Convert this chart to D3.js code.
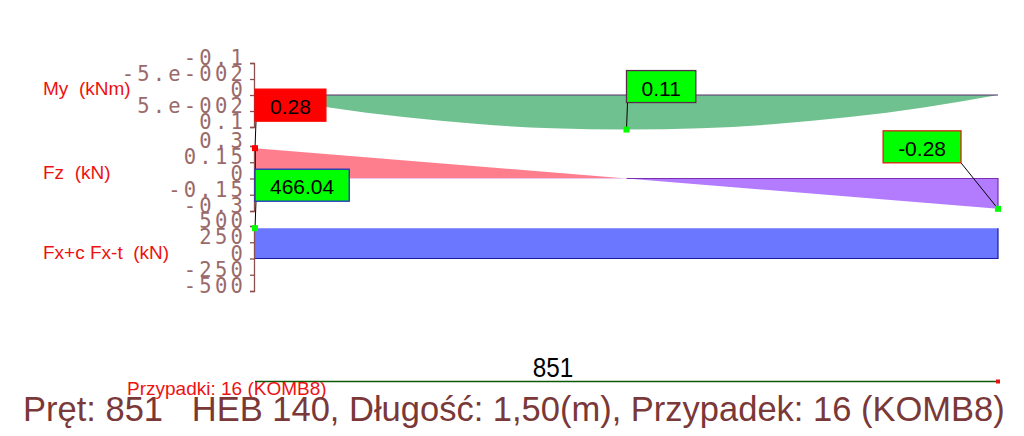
<!DOCTYPE html>
<html><head><meta charset="utf-8">
<script src="https://cdn.jsdelivr.net/npm/d3@7"></script>
<style>
html,body{margin:0;padding:0;background:#fff;}
svg{display:block;}
text{white-space:pre;}
</style></head>
<body>
<svg id="chart" width="1024" height="436"></svg>
<script>
// ---- data ----
const beamLength = 1.5;
const stations = [0, 0.15, 0.3, 0.45, 0.6, 0.75, 0.9, 1.05, 1.2, 1.35, 1.5];
const myValues = [0, 0.039, 0.069, 0.091, 0.104, 0.108, 0.104, 0.091, 0.069, 0.039, 0];
const fzStations = [0, 1.5];
const fzValues = [0.28, -0.28];
const fxStations = [0, 1.5];
const fxValues = [466.04, 466.04];

const myTicks = [-0.1, -0.05, 0, 0.05, 0.1];
const myTickLabels = ["-0.1", "-5.e-002", "0", "5.e-002", "0.1"];
const fzTicks = [0.3, 0.15, 0, -0.15, -0.3];
const fzTickLabels = ["0.3", "0.15", "0", "-0.15", "-0.3"];
const fxTicks = [500, 250, 0, -250, -500];
const fxTickLabels = ["500", "250", "0", "-250", "-500"];

const panelLabels = ["My  (kNm)", "Fz  (kN)", "Fx+c Fx-t  (kN)"];
const callouts = [
  {panel: "fz", s: 0, v: 0.28, text: "0.28", fill: "#ff0000", stroke: "#ff0000", marker: "#ff0000", anchor: "left"},
  {panel: "my", s: 0.75, v: 0.108, text: "0.11", fill: "#00ff00", stroke: "#5a2a4a", marker: "#00ff00", anchor: "left"},
  {panel: "fz", s: 1.5, v: -0.28, text: "-0.28", fill: "#00ff00", stroke: "#e02010", marker: "#00ff00", anchor: "right"},
  {panel: "fx", s: 0, v: 466.04, text: "466.04", fill: "#00ff00", stroke: "#2030c0", marker: "#00ff00", anchor: "left"}
];
const memberLabel = "851";
const caseLabel = "Przypadki: 16 (KOMB8)";
const titleText = "Pręt: 851   HEB 140, Długość: 1,50(m), Przypadek: 16 (KOMB8)";

// ---- scales ----
const svg = d3.select("#chart");
const x = d3.scaleLinear().domain([0, beamLength]).range([255, 998]);
const yMy = d3.scaleLinear().domain([-0.1, 0.1]).range([63, 127]);
const yFz = d3.scaleLinear().domain([-0.3, 0.3]).range([211, 146]);
const yFx = d3.scaleLinear().domain([-500, 500]).range([291, 226]);
const scales = {my: yMy, fz: yFz, fx: yFx};
const sans = "'Liberation Sans', Arial, sans-serif";

// ---- My (green) ----
const myData = stations.map((s, i) => ({s, v: myValues[i]}));
svg.append("path").datum(myData)
  .attr("d", d3.area().x(d => x(d.s)).y0(yMy(0)).y1(d => yMy(d.v)).curve(d3.curveMonotoneX))
  .attr("fill", "#70c190");
svg.append("line").attr("x1", x(0)).attr("x2", x(beamLength)).attr("y1", yMy(0)).attr("y2", yMy(0))
  .attr("stroke", "#5a3070").attr("stroke-width", 1.2);

// ---- Fz (pink / purple) ----
const fzData = fzStations.map((s, i) => ({s, v: fzValues[i]}));
const defs = svg.append("defs");
defs.append("clipPath").attr("id", "fzPos").append("rect")
  .attr("x", 0).attr("y", 0).attr("width", 1024).attr("height", yFz(0));
defs.append("clipPath").attr("id", "fzNeg").append("rect")
  .attr("x", 0).attr("y", yFz(0)).attr("width", 1024).attr("height", 436);
const fzArea = d3.area().x(d => x(d.s)).y0(yFz(0)).y1(d => yFz(d.v));
svg.append("path").datum(fzData).attr("d", fzArea).attr("fill", "#ff7e8e").attr("clip-path", "url(#fzPos)");
svg.append("path").datum(fzData).attr("d", fzArea).attr("fill", "#b37cff").attr("clip-path", "url(#fzNeg)");
const zeroS = fzStations[0] + (fzStations[1] - fzStations[0]) * fzValues[0] / (fzValues[0] - fzValues[1]);
svg.append("path")
  .attr("d", `M${x(zeroS)},${yFz(0)}H${x(beamLength)}V${yFz(fzValues[1])}`)
  .attr("fill", "none").attr("stroke", "#7a30b0").attr("stroke-width", 1.2);
svg.append("line").attr("x1", x(0)+0.5).attr("x2", x(0)+0.5).attr("y1", yFz(fzValues[0])).attr("y2", yFz(0))
  .attr("stroke", "#301010").attr("stroke-width", 1);

// ---- Fx (blue) ----
const fxData = fxStations.map((s, i) => ({s, v: fxValues[i]}));
svg.append("path").datum(fxData)
  .attr("d", d3.area().x(d => x(d.s)).y0(yFx(0)).y1(d => yFx(d.v)))
  .attr("fill", "#6b77ff");
svg.append("path")
  .attr("d", `M${x(0)},${yFx(0)}H${x(beamLength)}V${yFx(fxValues[1])}`)
  .attr("fill", "none").attr("stroke", "#1a1aa0").attr("stroke-width", 1.2);

// ---- axes ----
function drawAxis(scale, ticks, labels) {
  const ax = d3.axisLeft(scale).tickValues(ticks).tickFormat((d, i) => labels[i]).tickSize(4).tickSizeOuter(4);
  const g = svg.append("g").attr("transform", "translate(254,0)").call(ax);
  g.selectAll("path, line").attr("stroke", "#8a5050").attr("stroke-width", 1.3);
  g.selectAll("text")
    .attr("x", -8).attr("dy", "0.08em")
    .attr("fill", "#9a6a6a")
    .style("font-family", "'DejaVu Sans Mono', monospace")
    .style("font-size", "20.5px")
    .style("letter-spacing", "3.2px");
}
drawAxis(yMy, myTicks, myTickLabels);
drawAxis(yFz, fzTicks, fzTickLabels);
drawAxis(yFx, fxTicks, fxTickLabels);

// ---- panel labels ----
const labelY = [yMy(0), yFz(0), yFx(0)];
panelLabels.forEach((t, i) => {
  svg.append("text").attr("x", 43).attr("y", labelY[i])
    .attr("fill", "#ee1111")
    .style("font-family", sans)
    .style("font-size", "19px").text(t);
});

// ---- callouts ----
callouts.forEach(c => {
  const mx = x(c.s), my = scales[c.panel](c.v);
  const tmp = svg.append("text").style("font-family", sans).style("font-size", "21px").text(c.text);
  const tw = tmp.node().getComputedTextLength();
  tmp.remove();
  const bw = tw + 30, bh = 32;
  let bx, by, lx, ly;
  if (c.anchor === "left") {
    bx = mx; by = my - 27 - bh; lx = mx + 1; ly = by + bh;
  } else {
    bx = mx - 37 - bw; by = my - 46 - bh; lx = bx + bw; ly = by + bh;
  }
  svg.append("line").attr("x1", lx).attr("y1", ly).attr("x2", mx).attr("y2", my)
    .attr("stroke", "#000").attr("stroke-width", 1);
  svg.append("rect").attr("x", bx).attr("y", by).attr("width", bw).attr("height", bh)
    .attr("fill", c.fill).attr("stroke", c.stroke).attr("stroke-width", 1.3);
  svg.append("text").attr("x", bx + bw / 2).attr("y", by + 25).attr("text-anchor", "middle")
    .attr("fill", "#000").style("font-family", sans).style("font-size", "21px").text(c.text);
  svg.append("rect").attr("x", mx - 3).attr("y", my - 3).attr("width", 6).attr("height", 6).attr("fill", c.marker);
});

// ---- member line and titles ----
svg.append("text").attr("x", 553).attr("y", 377).attr("text-anchor", "middle")
  .attr("fill", "#000").style("font-family", sans).style("font-size", "27px")
  .attr("transform", "translate(553,377) scale(0.9,1) translate(-553,-377)")
  .text(memberLabel);
svg.append("line").attr("x1", x(0)).attr("x2", x(beamLength)).attr("y1", 381.5).attr("y2", 381.5)
  .attr("stroke", "#0a5a0a").attr("stroke-width", 1.5);
svg.append("rect").attr("x", x(beamLength) - 2).attr("y", 379.5).attr("width", 4).attr("height", 4).attr("fill", "#ee1111");
svg.append("text").attr("x", 127).attr("y", 395)
  .attr("fill", "#ee1111").style("font-family", sans).style("font-size", "19px")
  .text(caseLabel);
svg.append("text").attr("x", 23).attr("y", 421)
  .attr("fill", "#7a3838").style("font-family", sans).style("font-size", "34.5px")
  .text(titleText);
</script>
</body></html>
